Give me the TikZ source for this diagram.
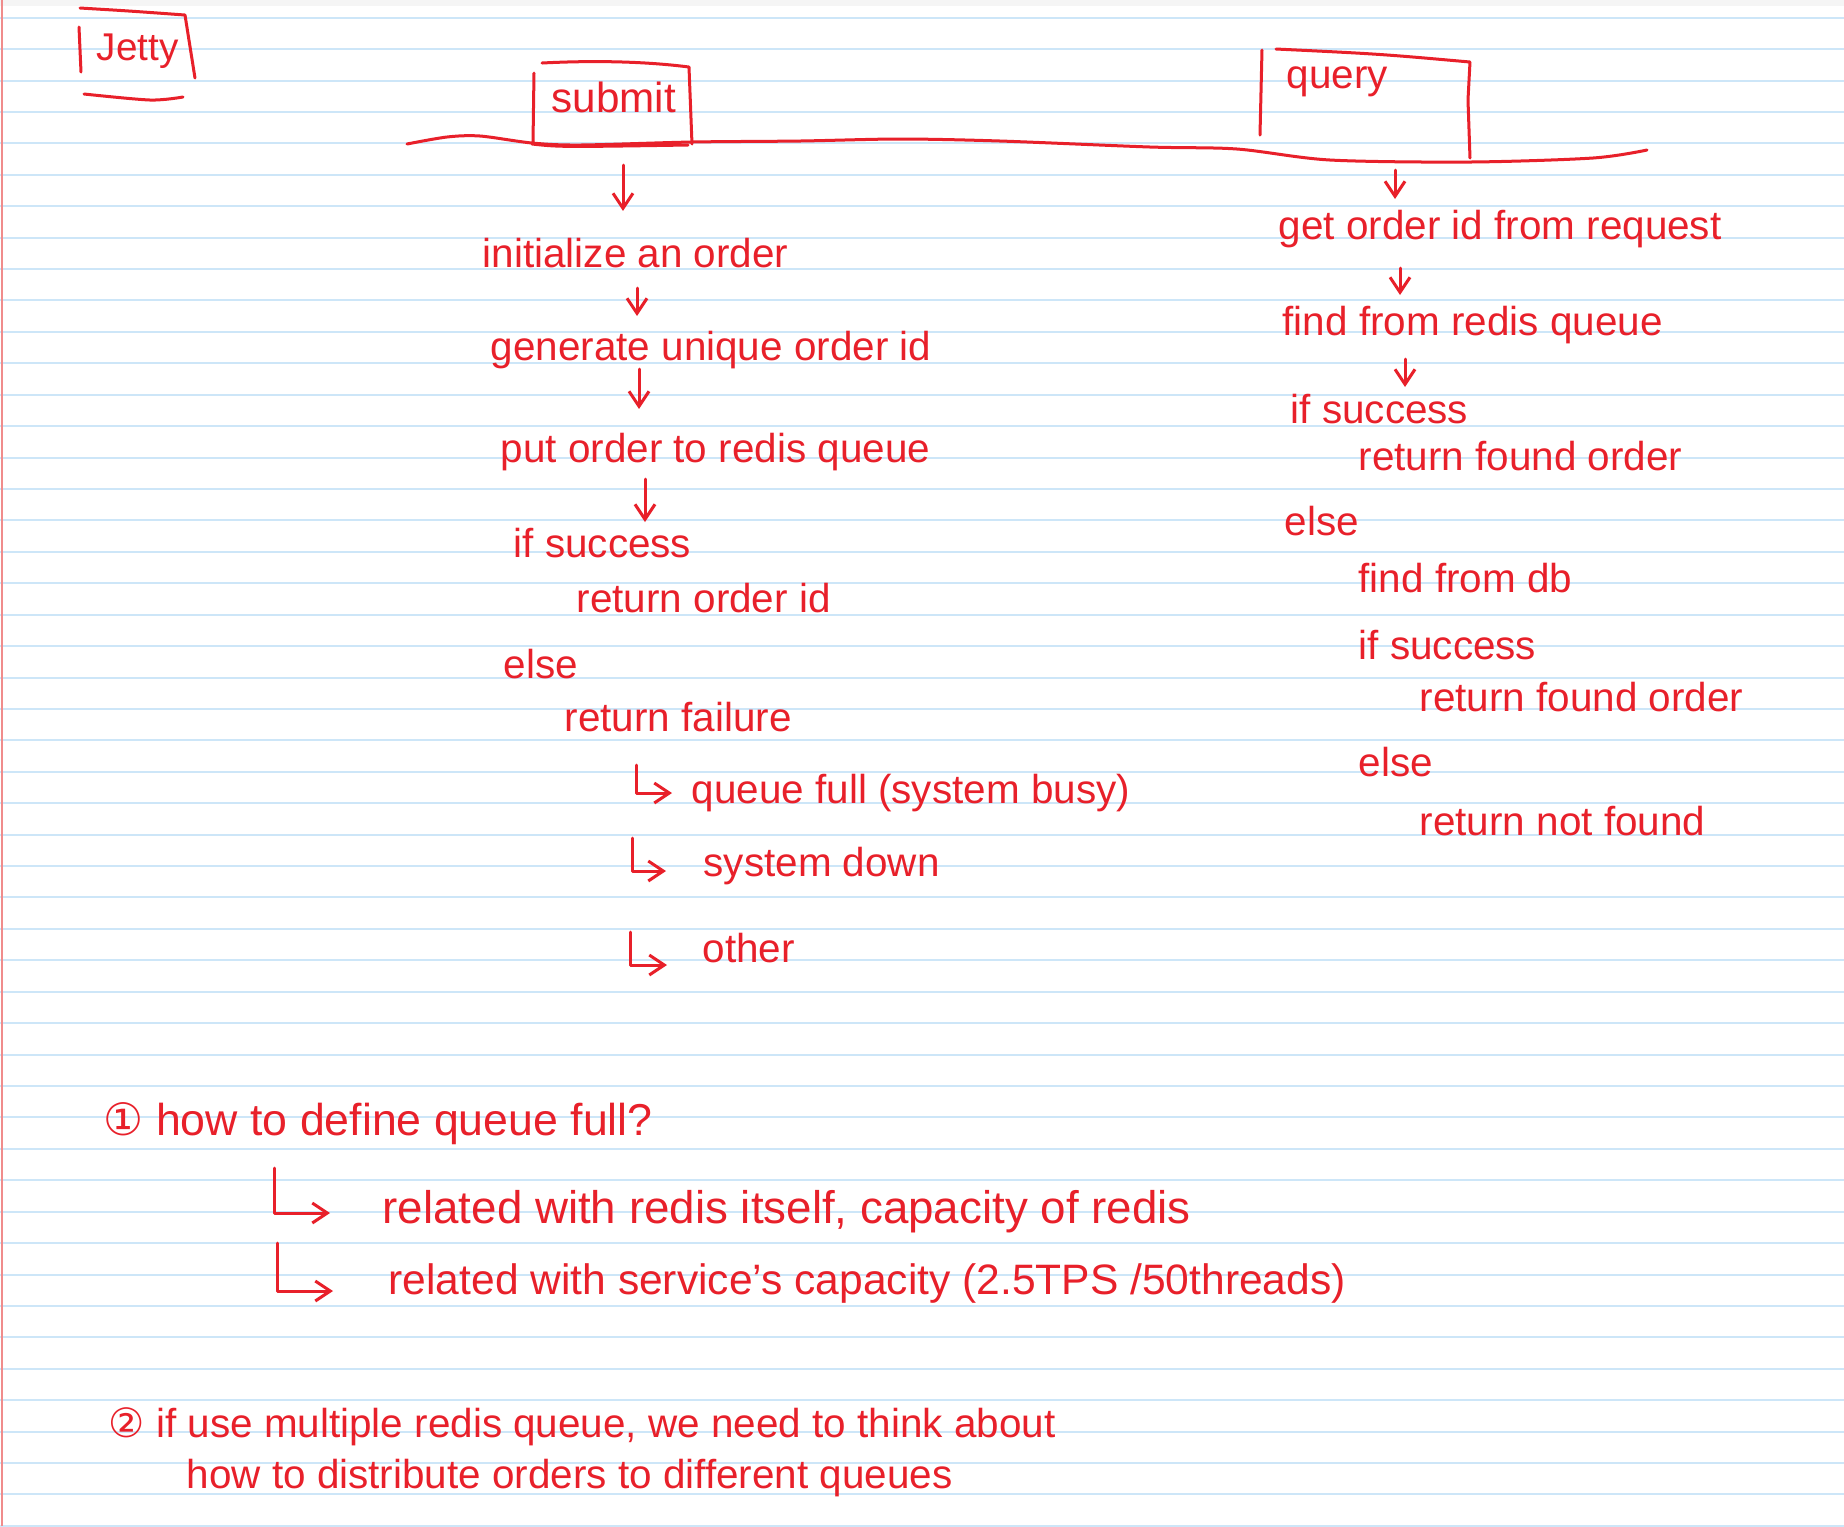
\documentclass[tikz,border=0pt]{standalone}
\usepackage{fontspec}
\setmainfont{Liberation Sans}
\newfontfamily\symfont{DejaVu Sans}
\usetikzlibrary{arrows.meta}
\definecolor{ink}{HTML}{E8202A}
\definecolor{paperline}{HTML}{CDE6F8}
\definecolor{marginline}{HTML}{F08C8C}
\tikzset{
  note/.style={anchor=base west, inner sep=0pt, text=ink, font=\fontsize{11.5}{14}\selectfont},
  pen/.style={draw=ink, line width=0.03cm, line cap=round, line join=round},
  arr/.style={pen, -{Straight Barb[length=0.15cm,width=0.2cm]}},
}

\begin{document}
\begin{tikzpicture}[x=0.01cm, y=-0.01cm]
\fill[white] (0,0) rectangle (1844,1526);
\useasboundingbox (0,0) rectangle (1844,1526);
\fill[black!4] (0,0) rectangle (1844,6);
\foreach \k in {0,...,48}
  \draw[paperline, line width=0.02cm] (0,{17.7+31.42*\k}) -- (1844,{17.7+31.42*\k});
\draw[marginline, line width=0.02cm] (2,0) -- (2,1526);

\node[note, font=\fontsize{11}{14}\selectfont] (jetty) at (96,60) {Jetty};
\draw[pen] (80,8) .. controls (130,11) .. (185,15) -- (195,78);
\draw[pen] (79,27) -- (81,72);
\draw[pen] plot[smooth] coordinates {(84,94) (150,100) (183,97)};

\node[note, font=\fontsize{12}{14}\selectfont] (submit) at (551,112) {submit};
\draw[pen] (534,73) -- (533,143);
\draw[pen] (542,63) .. controls (600,60) and (650,62) .. (689,67) -- (692,144);
\draw[pen] (532,144) .. controls (560,147) .. (688,145);

\node[note, font=\fontsize{11.5}{14}\selectfont] (query) at (1286,88) {query};
\draw[pen] (1262,50) -- (1260,135);
\draw[pen] (1276,49) .. controls (1380,54) .. (1470,62) -- (1468,100) -- (1470,158);

\draw[pen] plot[smooth] coordinates {(407,144) (447,137) (480,136) (532,143) (580,145)
  (692,142) (800,141) (900,139) (1000,141) (1150,147) (1237,149) (1330,160)
  (1470,162) (1593,158) (1647,150)};
\coordinate (sbot) at (623,165);
\coordinate (qbot) at (1395,170);

\node[note] (init) at (482,267) {initialize an order};
\node[note] (gen) at (490,360) {generate unique order id};
\node[note] (put) at (500,462) {put order to redis queue};
\node[note] (ifok) at (513,557) {if success};
\node[note] (retid) at (576,612) {return order id};
\node[note] (else1) at (503,678) {else};
\node[note] (fail) at (564,731) {return failure};
\node[note] (qfull) at (691,803) {queue full (system busy)};
\node[note] (down) at (703,876) {system down};
\node[note] (other) at (702,962) {other};

\draw[arr, shorten >=0.26cm] (sbot) -- (init.north -| sbot);
\draw[arr, shorten <=0.2cm, shorten >=0.14cm] (init.south -| 637,0) -- (gen.north -| 637,0);
\draw[arr, shorten >=0.23cm] (gen.south -| 639,0) -- (put.north -| 639,0);
\draw[arr, shorten <=0.08cm, shorten >=0.05cm] (put.south -| 645,0) -- (ifok.north -| 645,0);
\draw[arr] ([shift={(-55,-38)}]qfull.base west) |- ([shift={(-19,-10)}]qfull.base west);
\draw[arr] ([shift={(-71,-38)}]down.base west) |- ([shift={(-37,-5)}]down.base west);
\draw[arr] ([shift={(-72,-30)}]other.base west) |- ([shift={(-35,3)}]other.base west);

\node[note] (getid) at (1278,239) {get order id from request};
\node[note] (findr) at (1282,335) {find from redis queue};
\node[note] (ifok2) at (1290,423) {if success};
\node[note] (retf) at (1358,470) {return found order};
\node[note] (else2) at (1284,535) {else};
\node[note] (finddb) at (1358,592) {find from db};
\node[note] (ifok3) at (1358,659) {if success};
\node[note] (retf2) at (1419,711) {return found order};
\node[note] (else3) at (1358,776) {else};
\node[note] (notf) at (1419,835) {return not found};

\draw[arr, shorten >=0.1cm] (qbot) -- (getid.north -| qbot);
\draw[arr, shorten <=0.2cm, shorten >=0.1cm] (getid.south -| 1400,0) -- (findr.north -| 1400,0);
\draw[arr, shorten <=0.15cm, shorten >=0.06cm] (findr.south -| 1405,0) -- (ifok2.north -| 1405,0);

\node[note, font=\fontsize{12.7}{14}\selectfont] (q1) at (103,1135) {{\symfont ①} how to define queue full?};
\node[note, font=\fontsize{13}{14}\selectfont] (r1) at (382,1223) {related with redis itself, capacity of redis};
\node[note, font=\fontsize{12.1}{14}\selectfont] (r2) at (388,1294) {related with service's capacity (2.5TPS /50threads)};
\draw[arr] ([shift={(-108,-55)}]r1.base west) |- ([shift={(-52,-10)}]r1.base west);
\draw[arr] ([shift={(-111,-51)}]r2.base west) |- ([shift={(-55,-3)}]r2.base west);

\node[note] (q2) at (108,1437) {{\symfont ②} if use multiple redis queue, we need to think about};
\node[note] (q2b) at (186,1488) {how to distribute orders to different queues};
\end{tikzpicture}
\end{document}
